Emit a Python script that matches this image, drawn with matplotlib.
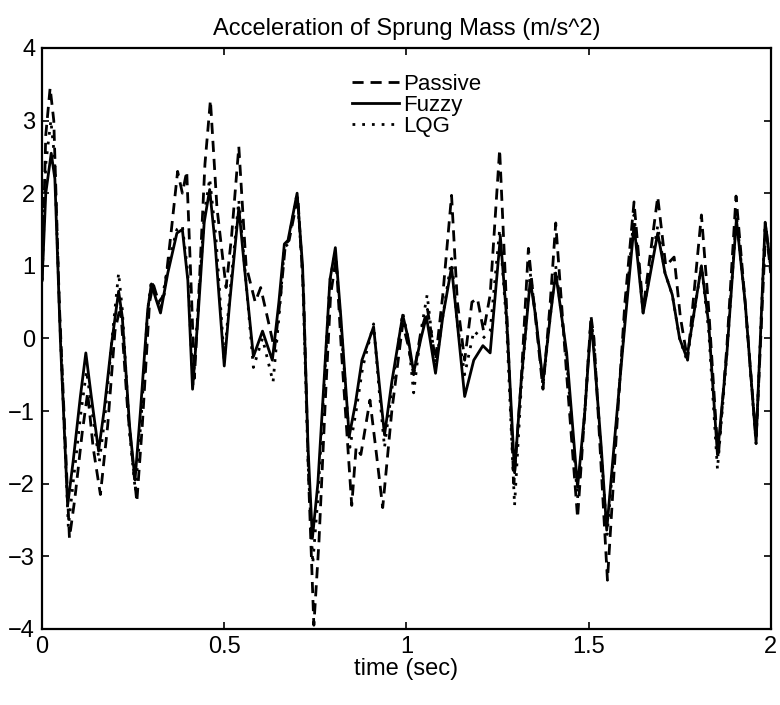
import matplotlib
matplotlib.use("Agg")
import matplotlib.pyplot as plt

# ---- data (time in s, acceleration in m/s^2)
passive = [
    (0.000, 0.8), (0.010, 2.8), (0.022, 3.45), (0.032, 3.0), (0.047, 0.5),
    (0.075, -2.75), (0.090, -2.2), (0.110, -1.3), (0.125, -0.75), (0.140, -1.5),
    (0.160, -2.15), (0.180, -1.2), (0.200, 0.1), (0.215, 0.45), (0.235, -1.0),
    (0.260, -2.25), (0.275, -1.2), (0.295, 0.5), (0.305, 0.75), (0.320, 0.5),
    (0.335, 0.6), (0.355, 1.5), (0.372, 2.3), (0.385, 2.0), (0.397, 2.3),
    (0.410, 0.6), (0.418, -0.55), (0.430, 0.6), (0.447, 2.4), (0.462, 3.28),
    (0.480, 1.8), (0.505, 0.7), (0.520, 1.4), (0.540, 2.64), (0.560, 1.0),
    (0.585, 0.5), (0.600, 0.7), (0.618, 0.3), (0.638, -0.15), (0.655, 0.6),
    (0.668, 1.3), (0.678, 1.35), (0.702, 1.95), (0.718, 0.6), (0.732, -2.0),
    (0.746, -3.95), (0.760, -2.8), (0.778, -0.8), (0.792, 0.6), (0.807, 1.1),
    (0.822, -0.2), (0.850, -2.3), (0.862, -1.5), (0.875, -1.6), (0.900, -0.85),
    (0.918, -1.6), (0.935, -2.33), (0.960, -1.0), (0.990, 0.2), (1.005, -0.1),
    (1.020, -0.5), (1.040, 0.1), (1.058, 0.4), (1.080, -0.3), (1.100, 0.6),
    (1.124, 1.97), (1.140, 0.5), (1.160, -0.3), (1.180, 0.5), (1.195, 0.55),
    (1.212, 0.1), (1.230, 0.6), (1.256, 2.6), (1.272, 0.8), (1.295, -2.0),
    (1.315, -0.6), (1.335, 1.24), (1.352, 0.4), (1.375, -0.7), (1.395, 0.5),
    (1.410, 1.59), (1.440, -0.5), (1.470, -2.47), (1.490, -1.0), (1.507, 0.3),
    (1.515, 0.0), (1.535, -1.8), (1.552, -3.33), (1.578, -1.2), (1.600, 0.5),
    (1.625, 1.88), (1.650, 0.4), (1.690, 1.95), (1.712, 1.0), (1.735, 1.12),
    (1.752, 0.3), (1.772, -0.3), (1.810, 1.7), (1.830, 0.4), (1.856, -1.65),
    (1.880, -0.1), (1.905, 1.96), (1.930, 0.5), (1.960, -1.4), (1.987, 1.55),
    (2.000, 0.9),
]

fuzzy = [
    (0.000, 0.8), (0.010, 2.0), (0.025, 2.55), (0.035, 2.2), (0.050, 0.0),
    (0.070, -2.3), (0.085, -1.7), (0.105, -0.8), (0.120, -0.2), (0.135, -0.8),
    (0.155, -1.55), (0.170, -1.0), (0.190, -0.1), (0.210, 0.65), (0.220, 0.3),
    (0.240, -1.2), (0.255, -1.95), (0.270, -1.0), (0.290, 0.4), (0.300, 0.75),
    (0.312, 0.55), (0.325, 0.35), (0.345, 0.9), (0.370, 1.45), (0.385, 1.5),
    (0.400, 0.8), (0.413, -0.7), (0.428, 0.3), (0.445, 1.6), (0.460, 2.05),
    (0.475, 1.3), (0.500, -0.38), (0.515, 0.5), (0.540, 1.8), (0.555, 1.0),
    (0.580, -0.25), (0.605, 0.1), (0.632, -0.3), (0.650, 0.5), (0.665, 1.3),
    (0.675, 1.35), (0.700, 2.0), (0.715, 1.0), (0.730, -1.5), (0.742, -2.75),
    (0.757, -2.0), (0.775, -0.5), (0.790, 0.8), (0.805, 1.25), (0.820, 0.3),
    (0.843, -1.35), (0.860, -0.9), (0.878, -0.3), (0.910, 0.16), (0.925, -0.6),
    (0.940, -1.33), (0.960, -0.6), (0.990, 0.32), (1.005, 0.0), (1.020, -0.47),
    (1.040, 0.0), (1.055, 0.3), (1.080, -0.48), (1.100, 0.3), (1.124, 0.98),
    (1.140, 0.2), (1.160, -0.8), (1.185, -0.3), (1.210, -0.1), (1.230, -0.2),
    (1.258, 1.4), (1.275, 0.3), (1.297, -1.85), (1.315, -0.6), (1.340, 0.8),
    (1.355, 0.3), (1.375, -0.6), (1.395, 0.3), (1.410, 0.9), (1.440, -0.2),
    (1.470, -2.05), (1.490, -1.0), (1.507, 0.23), (1.515, -0.2), (1.535, -1.5),
    (1.550, -2.64), (1.575, -1.2), (1.600, 0.2), (1.625, 1.56), (1.650, 0.35),
    (1.690, 1.45), (1.710, 0.9), (1.730, 0.6), (1.750, 0.0), (1.770, -0.27),
    (1.810, 1.0), (1.830, 0.2), (1.854, -1.6), (1.880, -0.2), (1.906, 1.64),
    (1.930, 0.5), (1.960, -1.43), (1.985, 1.6), (2.000, 1.0),
]

lqg = [
    (0.000, 0.8), (0.010, 2.4), (0.024, 3.0), (0.034, 2.5), (0.049, 0.2),
    (0.072, -2.6), (0.087, -1.9), (0.107, -1.0), (0.122, -0.45), (0.137, -1.0),
    (0.157, -1.7), (0.172, -1.1), (0.192, 0.0), (0.210, 0.9), (0.220, 0.4),
    (0.240, -1.3), (0.256, -2.1), (0.272, -1.1), (0.290, 0.4), (0.300, 0.8),
    (0.312, 0.6), (0.325, 0.4), (0.345, 1.0), (0.370, 1.5), (0.385, 1.55),
    (0.400, 0.9), (0.414, -0.65), (0.428, 0.4), (0.445, 1.7), (0.460, 2.2),
    (0.477, 1.4), (0.500, -0.3), (0.515, 0.6), (0.540, 1.9), (0.556, 1.0),
    (0.580, -0.4), (0.605, 0.0), (0.634, -0.6), (0.652, 0.4), (0.665, 1.25),
    (0.675, 1.3), (0.700, 2.0), (0.715, 0.9), (0.730, -1.7), (0.743, -3.1),
    (0.757, -2.2), (0.775, -0.6), (0.790, 0.8), (0.805, 1.2), (0.820, 0.2),
    (0.845, -1.5), (0.862, -1.0), (0.880, -0.4), (0.910, 0.2), (0.925, -0.7),
    (0.940, -1.5), (0.960, -0.7), (0.990, 0.35), (1.005, 0.0), (1.020, -0.75),
    (1.040, 0.1), (1.057, 0.6), (1.080, -0.4), (1.100, 0.3), (1.124, 1.1),
    (1.140, 0.2), (1.160, -0.5), (1.185, 0.1), (1.210, 0.0), (1.230, 0.1),
    (1.256, 1.5), (1.275, 0.2), (1.297, -2.3), (1.315, -0.7), (1.340, 0.9),
    (1.355, 0.3), (1.375, -0.65), (1.395, 0.3), (1.410, 1.0), (1.440, -0.3),
    (1.470, -2.2), (1.490, -1.0), (1.507, 0.3), (1.515, -0.1), (1.535, -1.6),
    (1.551, -2.7), (1.576, -1.2), (1.600, 0.3), (1.625, 1.7), (1.650, 0.35),
    (1.690, 1.55), (1.710, 0.9), (1.730, 0.6), (1.750, 0.0), (1.770, -0.3),
    (1.810, 1.0), (1.830, 0.1), (1.854, -1.8), (1.880, -0.2), (1.906, 1.7),
    (1.930, 0.5), (1.960, -1.45), (1.985, 1.6), (2.000, 1.0),
]

xticks = [0, 0.5, 1, 1.5, 2]
xticklabels = ["0", "0.5", "1", "1.5", "2"]
yticks = [-4, -3, -2, -1, 0, 1, 2, 3, 4]

plt.rcParams["font.family"] = ["Liberation Sans", "DejaVu Sans"]

fig = plt.figure(figsize=(7.8, 7.05), dpi=100)
ax = fig.add_axes([0.054, 0.108, 0.934, 0.824])

# passive dashed, fuzzy solid, LQG dotted (all black, matlab style)
series = [
    ("Passive", passive, (0, (4, 2.5))),
    ("Fuzzy", fuzzy, "-"),
    ("LQG", lqg, (0, (1, 2.5))),
]
for name, pts, ls in series:
    t = [p[0] for p in pts]
    v = [p[1] for p in pts]
    ax.plot(t, v, color="black", linestyle=ls, linewidth=2.0, label=name)

ax.set_xlim(0, 2)
ax.set_ylim(-4, 4)
ax.set_xticks(xticks)
ax.set_xticklabels(xticklabels)
ax.set_yticks(yticks)
ax.tick_params(direction="in", top=True, right=True, length=5, width=1.2,
               labelsize=17, pad=5)
for sp in ax.spines.values():
    sp.set_linewidth(1.6)

ax.set_title("Acceleration of Sprung Mass (m/s^2)", fontsize=17, pad=9)
ax.set_xlabel("time (sec)", fontsize=17, labelpad=0)

ax.legend(loc="upper left", bbox_to_anchor=(0.41, 0.975), frameon=False,
          fontsize=16, handlelength=2.1, handletextpad=0.2,
          labelspacing=0.0, borderpad=0.0)

fig.savefig("out.png", dpi=100)
